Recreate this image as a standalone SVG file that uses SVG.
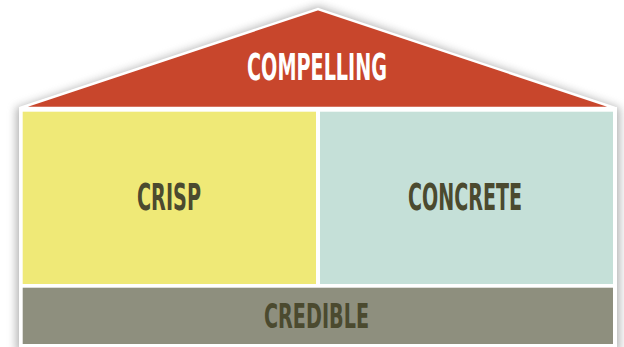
<svg xmlns="http://www.w3.org/2000/svg" width="624" height="347" viewBox="0 0 624 347">
  <style>
    .lbl { font-family: "Liberation Sans Narrow", "DejaVu Sans Condensed", "Liberation Sans", sans-serif; font-weight: bold; text-anchor: middle; }
    .dark { fill: #4b4a2f; }
    .light { fill: #ffffff; }
  </style>
  <defs>
    <filter id="soft" x="-10%" y="-20%" width="120%" height="140%">
      <feGaussianBlur stdDeviation="4"/>
    </filter>
  </defs>
  <rect width="624" height="347" fill="#ffffff"/>
  <!-- drop shadow of the house outline -->
  <path d="M16 108 L318 6 L620 108 L620 352 L16 352 Z" fill="#7a7a7a" opacity="0.55" filter="url(#soft)"/>
  <!-- white house frame -->
  <rect x="19" y="107" width="598" height="245" fill="#ffffff"/>
  <g id="roof">
    <path d="M20 108 L318 9 L615 108 Z" fill="#c8462c" stroke="#ffffff" stroke-width="2.5" stroke-linejoin="miter"/>
    <text class="lbl light" x="317" y="80" font-size="37" textLength="140" lengthAdjust="spacingAndGlyphs">COMPELLING</text>
  </g>
  <g id="crisp">
    <rect x="22.7" y="111.7" width="293.3" height="172.3" fill="#efe977"/>
    <text class="lbl dark" x="169" y="210" font-size="37" textLength="64" lengthAdjust="spacingAndGlyphs">CRISP</text>
  </g>
  <g id="concrete">
    <rect x="320" y="111.7" width="293" height="172.3" fill="#c5e0d8"/>
    <text class="lbl dark" x="465" y="210" font-size="37" textLength="114" lengthAdjust="spacingAndGlyphs">CONCRETE</text>
  </g>
  <g id="credible">
    <rect x="22.7" y="287.7" width="590.3" height="56.3" fill="#8e8f7e"/>
    <text class="lbl dark" x="316.5" y="328" font-size="34" textLength="105" lengthAdjust="spacingAndGlyphs">CREDIBLE</text>
  </g>
</svg>
